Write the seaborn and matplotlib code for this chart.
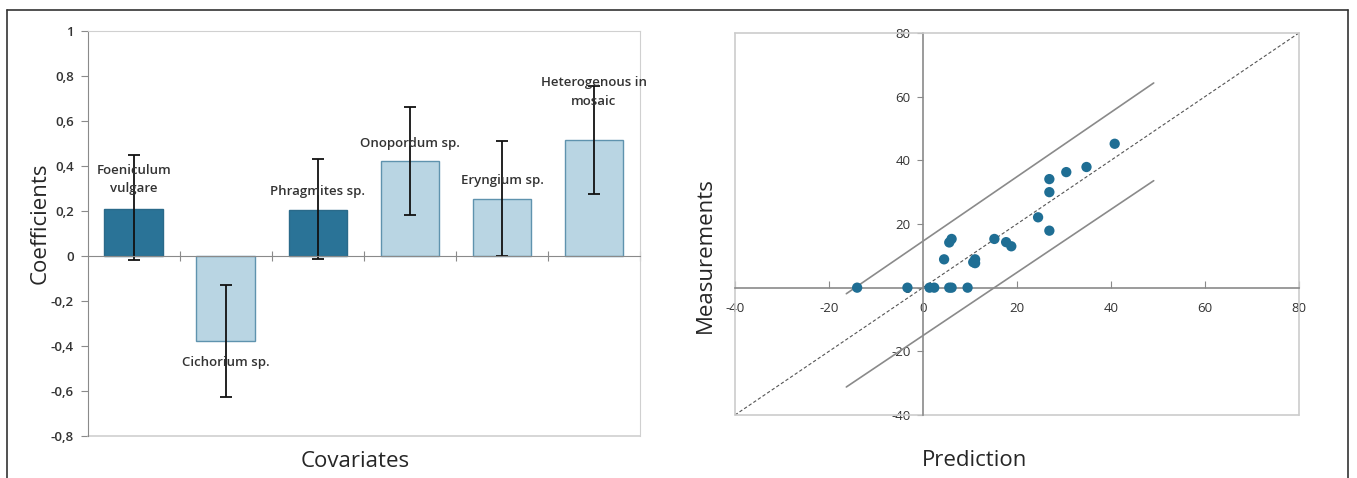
import numpy as np
import pandas as pd
import matplotlib
matplotlib.use("Agg")
import matplotlib.pyplot as plt
from matplotlib.lines import Line2D
import seaborn as sns

# left panel: coefficients with error bars
covariates = ["Foeniculum\nvulgare", "Cichorium sp.", "Phragmites sp.",
              "Onopordum sp.", "Eryngium sp.", "Heterogenous in\nmosaic"]
coefs = [0.21, -0.38, 0.205, 0.42, 0.255, 0.515]
ci_low = [-0.02, -0.625, -0.015, 0.18, 0.0, 0.275]
ci_high = [0.45, -0.13, 0.43, 0.66, 0.51, 0.755]
label_y = [0.34, -0.475, 0.287, 0.50, 0.334, 0.728]
bar_colors = ["#2a7397", "#b9d5e3", "#2a7397", "#b9d5e3", "#b9d5e3", "#b9d5e3"]
edge_colors = ["#2a6a8a", "#5f93ae", "#2a6a8a", "#5f93ae", "#5f93ae", "#5f93ae"]
ytick_vals = [-0.8, -0.6, -0.4, -0.2, 0, 0.2, 0.4, 0.6, 0.8, 1]
ytick_labels = ["-0,8", "-0,6", "-0,4", "-0,2", "0", "0,2", "0,4", "0,6", "0,8", "1"]

# right panel: measurements vs prediction
prediction = [-14.0, -3.3, 1.4, 2.4, 5.6, 6.1, 9.5, 4.5, 5.6, 6.1, 10.7, 11.1,
              11.1, 15.2, 17.7, 18.8, 24.5, 26.9, 26.9, 26.9, 30.5, 34.8, 40.8]
measurements = [0, 0, 0, 0, 0, 0, 0, 8.9, 14.2, 15.3, 8.0, 8.9,
                7.7, 15.3, 14.3, 13.0, 22.1, 17.9, 30.0, 34.1, 36.3, 37.9, 45.2]
band_x = [-16.3, 49.1]
band_upper = [-1.9, 64.3]
band_lower = [-31.2, 33.6]
diag = [-40, 80]
ticks_r = [-40, -20, 0, 20, 40, 60, 80]

sns.set_style("white")
plt.rcParams["font.family"] = ["Open Sans", "DejaVu Sans"]

fig = plt.figure(figsize=(13.57, 4.78), dpi=100)

# ---------- left ----------
ax = fig.add_axes([0.0648, 0.0879, 0.4068, 0.8473])
df = pd.DataFrame({"cov": covariates, "coef": coefs})
sns.barplot(data=df, x="cov", y="coef", hue="cov", palette=bar_colors,
            legend=False, width=0.64, ax=ax, linewidth=1, saturation=1)
for p, ec in zip(ax.patches, edge_colors):
    p.set_edgecolor(ec)
pos = np.arange(len(covariates))
yerr = [np.array(coefs) - np.array(ci_low), np.array(ci_high) - np.array(coefs)]
ax.errorbar(pos, coefs, yerr=yerr, fmt="none", ecolor="#111111",
            elinewidth=1.3, capsize=4, capthick=1.3)
for x, y, t in zip(pos, label_y, covariates):
    ax.text(x, y, t, ha="center", va="center", fontsize=9.5, color="#333333",
            linespacing=1.55, fontweight="semibold")

ax.set_xlim(-0.5, 5.5)
ax.set_ylim(-0.8, 1)
ax.set_yticks(ytick_vals)
ax.set_yticklabels(ytick_labels, fontweight="semibold")
ax.set_xticks(pos + 0.5)
ax.set_xticklabels([])
for s in ["top", "right"]:
    ax.spines[s].set_color("#d0d0d0")
ax.spines["left"].set_color("#8a8a8a")
ax.spines["bottom"].set_position(("data", 0))
ax.spines["bottom"].set_color("#8a8a8a")
ax.plot([0, 1], [0, 0], transform=ax.transAxes, color="#d0d0d0", lw=1.2,
        clip_on=False)
ax.tick_params(axis="y", direction="out", length=5, color="#8a8a8a",
               labelsize=9.5, labelcolor="#333333", left=True, pad=5)
ax.tick_params(axis="x", direction="inout", length=7, color="#8a8a8a",
               bottom=True)
ax.set_xlabel("Covariates", fontsize=16)
ax.set_ylabel("Coefficients", fontsize=16)
ax.xaxis.set_label_coords(0.484, -0.062)
ax.xaxis.label.set_va("center")
ax.yaxis.set_label_coords(-0.087, 0.526)
ax.yaxis.label.set_va("center")

# ---------- right ----------
ax2 = fig.add_axes([0.5416, 0.1318, 0.4156, 0.7992])
ax2.plot(diag, diag, color="#555555", lw=0.8, ls=(0, (3, 2)))
ax2.plot(band_x, band_upper, color="#8a8a8a", lw=1.2)
ax2.plot(band_x, band_lower, color="#8a8a8a", lw=1.2)
sns.scatterplot(x=prediction, y=measurements, color="#1f6e94", s=55,
                edgecolor="none", ax=ax2, zorder=3)
ax2.set_xlim(-40, 80)
ax2.set_ylim(-40, 80)
ax2.set_xticks(ticks_r)
ax2.set_yticks(ticks_r)
ax2.set_xticklabels(ticks_r, fontweight="semibold")
ax2.set_yticklabels(ticks_r, fontweight="semibold")
for s in ["left", "bottom"]:
    ax2.spines[s].set_position(("data", 0))
    ax2.spines[s].set_color("#8a8a8a")
    ax2.spines[s].set_linewidth(1.2)
for s in ["top", "right"]:
    ax2.spines[s].set_color("#cccccc")
    ax2.spines[s].set_linewidth(1.2)
ax2.plot([0, 0], [0, 1], transform=ax2.transAxes, color="#cccccc", lw=1.2,
         clip_on=False)
ax2.plot([0, 1], [0, 0], transform=ax2.transAxes, color="#cccccc", lw=1.2,
         clip_on=False)
ax2.tick_params(axis="y", direction="out", length=4, color="#8a8a8a",
                labelsize=9.5, labelcolor="#333333", left=True, pad=5)
ax2.tick_params(axis="x", direction="in", length=5, color="#8a8a8a",
                labelsize=9.5, labelcolor="#333333", bottom=True, pad=10)
ax2.set_xlabel("Prediction", fontsize=16)
ax2.set_ylabel("Measurements", fontsize=16)
ax2.xaxis.set_label_coords(0.4255, -0.12)
ax2.xaxis.label.set_va("center")
ax2.yaxis.set_label_coords(-0.053, 0.419)
ax2.yaxis.label.set_va("center")

# outer frame
frame = dict(color="#333333", lw=1.2)
fig.add_artist(Line2D([0.0052, 0.9934], [0.979, 0.979], **frame))
fig.add_artist(Line2D([0.0052, 0.0052], [0.0, 0.979], **frame))
fig.add_artist(Line2D([0.9934, 0.9934], [0.0, 0.979], **frame))

fig.savefig("out.png", dpi=100, facecolor="white")
